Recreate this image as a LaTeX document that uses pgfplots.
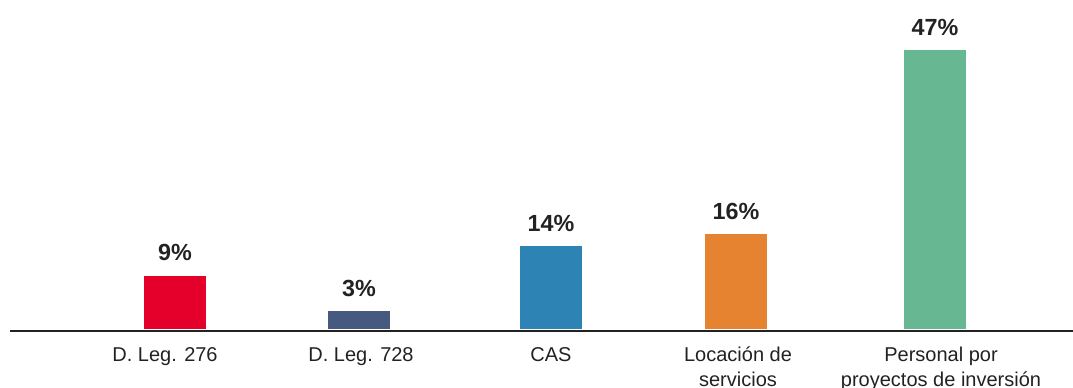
\documentclass[border=0pt]{standalone}
\usepackage{fontspec}
\setmainfont{Liberation Sans}
\usepackage{pgfplots}
\pgfplotsset{compat=1.18}
\definecolor{cRed}{HTML}{E4002B}
\definecolor{cNavy}{HTML}{455A7E}
\definecolor{cBlue}{HTML}{2E83B5}
\definecolor{cOrange}{HTML}{E58331}
\definecolor{cGreen}{HTML}{67B792}
\definecolor{cText}{HTML}{222222}
\begin{document}
\begin{tikzpicture}
\begin{axis}[
  at={(7.5pt,42.75pt)}, anchor=south west,
  scale only axis, width=797.25pt, height=248.25pt,
  xmin=10, xmax=1073, ymin=-0.34, ymax=55.4,
  axis x line*=bottom, axis y line=none,
  x axis line style={line width=1.8pt, color=cText, -},
  xtick={165,361,551,738,941},
  xticklabels={D. Leg. 276, D. Leg. 728, CAS, {Locación de\\servicios}, {Personal por\\proyectos de inversión}},
  major tick length=0pt,
  xticklabel style={align=center, font=\fontsize{15}{18.75}\selectfont, text=cText, anchor=north, inner sep=0pt, yshift=-12pt},
  ytick=\empty,
  ybar, bar width=62, bar shift=0pt,
  /pgf/number format/assume math mode=true,
  nodes near coords={\bfseries\pgfmathprintnumber{\pgfplotspointmeta}\%},
  nodes near coords style={font=\fontsize{17.5}{21}\selectfont\bfseries, text=cText, anchor=base, yshift=11pt},
  clip=false,
]
\addplot[fill=cRed, draw=none] coordinates {(175,9)};
\addplot[fill=cNavy, draw=none] coordinates {(359,3)};
\addplot[fill=cBlue, draw=none] coordinates {(551,14)};
\addplot[fill=cOrange, draw=none] coordinates {(736,16)};
\addplot[fill=cGreen, draw=none] coordinates {(935,47)};
\end{axis}
\pgfresetboundingbox
\useasboundingbox (0,0) rectangle (804.75pt,291pt);
\end{tikzpicture}
\end{document}
